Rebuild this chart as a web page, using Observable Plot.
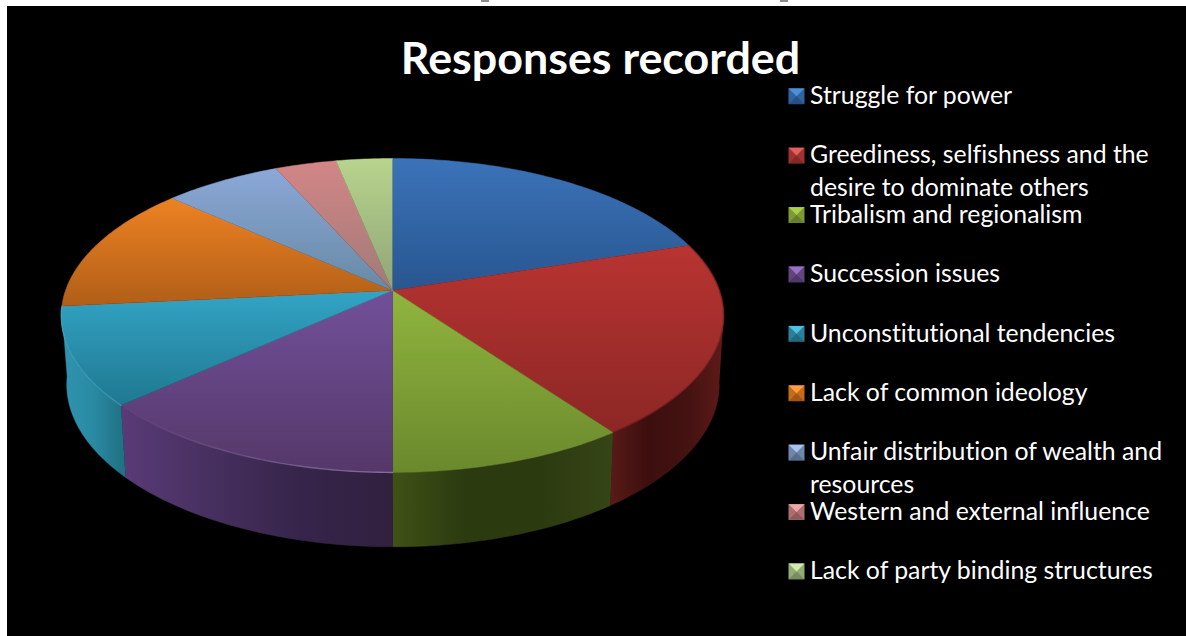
<!DOCTYPE html>
<html><head><meta charset="utf-8">
<script src="https://cdn.jsdelivr.net/npm/d3@7"></script>
<script src="https://cdn.jsdelivr.net/npm/@observablehq/plot@0.6"></script>
<style>
html,body{margin:0;padding:0;background:#fff;overflow:hidden}
#panel{position:absolute;left:7px;top:6px;right:0;bottom:0;background:#000}
#chart{position:absolute;left:0;top:0}
#chart text{font-variant-ligatures:none}
.crop{position:absolute;top:0;height:2px;width:8px;background:#8c8c8c}
</style></head>
<body>
<div id="panel"></div>
<div class="crop" style="left:481px"></div>
<div class="crop" style="left:780px"></div>
<div id="chart"></div>
<script>
const titleText = "Responses recorded";
const categories = [
  "Struggle for power",
  "Greediness, selfishness and the\ndesire to dominate others",
  "Tribalism and regionalism",
  "Succession issues",
  "Unconstitutional tendencies",
  "Lack of common ideology",
  "Unfair distribution of wealth and\nresources",
  "Western and external influence",
  "Lack of party binding structures"
];
const values = [20, 20, 10, 13.3, 10.1, 13.2, 6.7, 3.5, 3.2];
const topLight = ["#3b73b9","#b83431","#90b53e","#72509a","#33a4c6","#ee8222","#8ba8d8","#d38686","#b8d48d"];
const topDark  = ["#285690","#8c2725","#6a892d","#553869","#1f7890","#b05e18","#6789a4","#a07a78","#8fa578"];
const sideStops = [
  ["#20406a","#20406a"],
  ["#5a1a18","#3c0f0e","#431211","#5e1a18"],
  ["#3f5216","#2c3a10","#2c3a10","#364516"],
  ["#5a3a78","#46305f","#36244a","#32203f"],
  ["#2f94b0","#2a8aa4","#1f6f80"],
  ["#8a5010","#8a5010"],["#506080","#506080"],["#805050","#805050"],["#607050","#607050"]
];
const keyLight = ["#4d8fd6","#e0605c","#a8d048","#9a70c8","#50c0e0","#ffa040","#a8c4ec","#eca8a8","#d4ecae"];
const keyBase  = ["#30639f","#a03230","#7c9a36","#60457f","#2a809a","#c56c1c","#6f86ab","#ac6f6f","#94ab76"];

// geometry of the tilted disc
const cx = 392, cy = 290, rimX = 327, rimY = 153, tilt = 0.159;
const rim = (a) => {
  const u = Math.sin(a), v = -Math.cos(a), w = 1 - tilt * v;
  return {x: cx + rimX * u / w, y: cy + rimY * v / w};
};
const lower = (a) => {
  const p = rim(a);
  return {x: cx + 0.5 + (p.x - cx) * 0.985, y: cy + 68 + (p.y - cy) * 1.035};
};
const arcs = d3.pie().sort(null).startAngle(0).endAngle(2 * Math.PI)(values);
const step = Math.PI / 180;
const sweep = (a0, a1) => {
  const n = Math.max(1, Math.ceil((a1 - a0) / step));
  return d3.range(n + 1).map(i => a0 + (a1 - a0) * i / n);
};
const topFaces = arcs.map(d => [{x: cx, y: cy}, ...sweep(d.startAngle, d.endAngle).map(rim)]);
// the side wall shows only between the disc's two outermost rim points
const frontFrom = Math.PI * 0.55, frontTo = Math.PI * 1.465;
const sideFaces = arcs.map(d => {
  const a0 = Math.max(d.startAngle, frontFrom), a1 = Math.min(d.endAngle, frontTo);
  if (a1 <= a0) return null;
  const s = sweep(a0, a1);
  return [...s.map(rim), ...s.slice().reverse().map(lower)];
});

const defs = () => {
  const g = d3.create("svg:defs");
  categories.forEach((_, i) => {
    const t = g.append("linearGradient").attr("id", "top" + i).attr("x1", 0).attr("y1", 0).attr("x2", 0).attr("y2", 1);
    t.append("stop").attr("offset", 0).attr("stop-color", topLight[i]);
    t.append("stop").attr("offset", 1).attr("stop-color", topDark[i]);
    const s = g.append("linearGradient").attr("id", "side" + i);
    sideStops[i].forEach((c, k, all) => s.append("stop").attr("offset", k / (all.length - 1)).attr("stop-color", c));
  });
  const b = g.append("linearGradient").attr("id", "bevel").attr("x1", 1).attr("x2", 0);
  b.append("stop").attr("offset", 0).attr("stop-color", "#a98cc4").attr("stop-opacity", 0.65);
  b.append("stop").attr("offset", 1).attr("stop-color", "#a98cc4").attr("stop-opacity", 0.05);
  return g.node();
};

const keyTop = {draw(ctx, size) {
  const r = Math.sqrt(size / Math.PI);
  ctx.moveTo(-r, -r); ctx.lineTo(r, -r); ctx.lineTo(0, 0); ctx.closePath();
}};
const legendRows = categories.map((label, i) => ({label, i, row: 95 + 59.4 * i}));
const font = "Lato, Carlito, Calibri, sans-serif";

const plot = Plot.plot({
  width: 1186, height: 636, margin: 0,
  style: {background: "transparent"},
  x: {domain: [0, 1186], range: [0, 1186], axis: null},
  y: {domain: [0, 636], range: [0, 636], axis: null},
  marks: [
    defs,
    ...sideFaces.map((pts, i) => pts && Plot.line(pts, {x: "x", y: "y", fill: `url(#side${i})`, stroke: `url(#side${i})`, strokeWidth: 0.5})),
    ...topFaces.map((pts, i) => Plot.line(pts, {x: "x", y: "y", fill: `url(#top${i})`, stroke: `url(#top${i})`, strokeWidth: 0.5})),
    Plot.line(sweep(arcs[3].startAngle, arcs[3].endAngle).map(rim), {x: "x", y: "y", stroke: "url(#bevel)", strokeWidth: 1.4}),
    Plot.line(sweep(arcs[4].startAngle, arcs[4].endAngle).map(rim), {x: "x", y: "y", stroke: "#55bcd8", strokeOpacity: 0.4, strokeWidth: 1.4}),
    Plot.line(sweep(arcs[1].startAngle, arcs[1].endAngle).map(rim), {x: "x", y: "y", stroke: "#5a1a18", strokeOpacity: 0.35, strokeWidth: 2}),
    Plot.text([titleText], {x: () => 600, y: () => 59, text: d => d, fill: "#fff", fontFamily: font, fontWeight: 700, fontSize: 44.8, textAnchor: "middle", lineAnchor: "middle"}),
    Plot.dot(legendRows, {x: () => 796, y: d => d.row + 0.7, symbol: "square", r: 9.03, fill: d => keyBase[d.i]}),
    Plot.dot(legendRows, {x: () => 796, y: d => d.row + 0.7, symbol: keyTop, r: 7.8, fill: d => keyLight[d.i]}),
    Plot.dot(legendRows, {x: () => 796, y: d => d.row + 0.7, symbol: keyTop, rotate: 180, r: 7.8, fill: "#000", fillOpacity: 0.18}),
    Plot.text(legendRows, {x: () => 809.5, y: d => d.row - 15, text: "label", fill: "#fff", fontFamily: font, fontSize: 24.8, lineHeight: 1.33, textAnchor: "start", lineAnchor: "top"})
  ].filter(Boolean)
});
document.getElementById("chart").append(plot);
</script>
</body></html>
